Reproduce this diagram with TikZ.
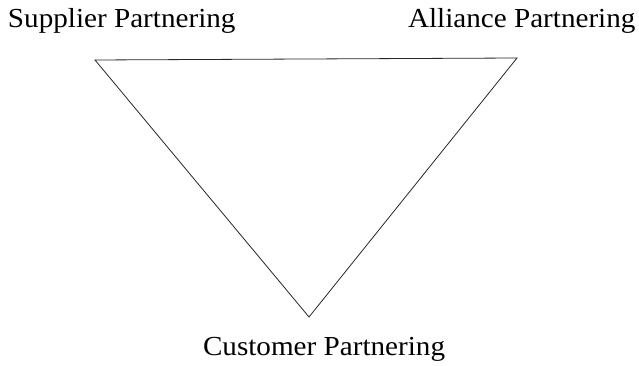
\documentclass[tikz,border=0pt]{standalone}
\usepackage{fontspec}
\setmainfont{Liberation Serif}
\begin{document}
\begin{tikzpicture}[x=1pt,y=-1pt,
  lbl/.style={anchor=base west,inner sep=0pt,outer sep=0pt,font=\fontsize{27.5}{30}\selectfont},
  edge/.style={line width=0.8pt,black!85,line join=miter}]
\useasboundingbox (0,0) rectangle (639,366);
\node[lbl] (sup) at (8,28) {\scalebox{1.06}[1]{Supplier Partnering}};
\node[lbl] (all) at (408,28) {\scalebox{1.06}[1]{Alliance Partnering}};
\node[lbl] (cus) at (203,355) {\scalebox{1.06}[1]{Customer Partnering}};
\coordinate (tl) at (95,60);
\coordinate (tr) at (517,58);
\coordinate (bt) at (309,317);
\draw[edge] (tl) -- (tr) -- (bt) -- cycle;
\end{tikzpicture}
\end{document}
